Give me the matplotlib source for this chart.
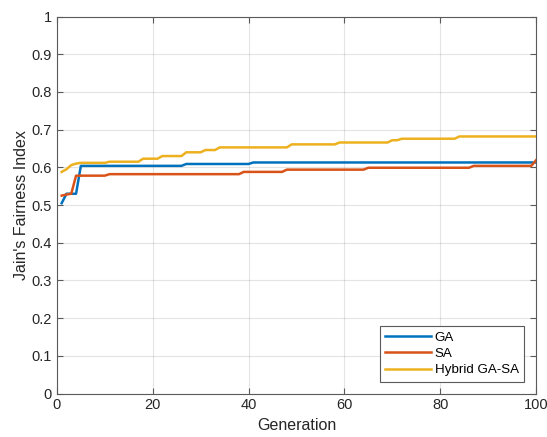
import numpy as np
import matplotlib
matplotlib.use("Agg")
import matplotlib.pyplot as plt

plt.rcParams['font.family'] = ['Liberation Sans', 'DejaVu Sans']

# ── Data (generations 1..100) ─────────────────────────────────────────────
generation = np.arange(1, 101)

ga = ([0.505] + [0.530] * 3 + [0.604] * 22 + [0.609] * 14 + [0.613] * 60)

sa = ([0.525, 0.528, 0.530] + [0.578] * 7 + [0.582] * 28 + [0.588] * 9
      + [0.594] * 17 + [0.599] * 22 + [0.604] * 13 + [0.619])

hybrid = ([0.588, 0.595, 0.606, 0.610] + [0.612] * 6 + [0.615] * 7
          + [0.623] * 4 + [0.630] * 5 + [0.640] * 4 + [0.646] * 3
          + [0.653] * 15 + [0.661] * 10 + [0.666] * 11 + [0.672] * 2
          + [0.676] * 12 + [0.682] * 17)

series = [("GA", ga), ("SA", sa), ("Hybrid GA-SA", hybrid)]
colors = ['#0072BD', '#D95319', '#EDB120']

x_ticks = [0, 20, 40, 60, 80, 100]
y_ticks = np.round(np.arange(0, 1.01, 0.1), 1)

# ── Figure ────────────────────────────────────────────────────────────────
TXT_COL = '#262626'
AX_COL = '#5a5a5a'
fig = plt.figure(figsize=(5.47, 4.37), dpi=100)
ax = fig.add_axes([0.104, 0.0995, 0.876, 0.8625])

for (name, vals), c in zip(series, colors):
    ax.plot(generation, vals, color=c, lw=1.8, label=name)

ax.set_xlim(0, 100)
ax.set_ylim(0, 1)
ax.set_xticks(x_ticks)
ax.set_yticks(y_ticks)
ax.set_yticklabels([f"{v:g}" for v in y_ticks])

ax.grid(True, color=TXT_COL, alpha=0.12, lw=0.8)
ax.set_axisbelow(True)
for s in ax.spines.values():
    s.set_color(AX_COL)
    s.set_linewidth(0.8)
ax.tick_params(direction='in', length=4, width=0.8, color=AX_COL,
               labelcolor=TXT_COL, labelsize=10.5, top=True, right=True)

ax.set_xlabel('Generation', fontsize=11.5, color=TXT_COL, labelpad=4)
ax.set_ylabel("Jain's Fairness Index", fontsize=11.5, color=TXT_COL, labelpad=2)

leg = ax.legend(loc='lower right', fontsize=9.6, fancybox=False,
                framealpha=1, edgecolor=AX_COL, handlelength=3.4,
                handletextpad=0.3, borderaxespad=0.9, labelspacing=0.3,
                borderpad=0.4)
leg.get_frame().set_linewidth(0.8)

fig.savefig('out.png', dpi=100)
